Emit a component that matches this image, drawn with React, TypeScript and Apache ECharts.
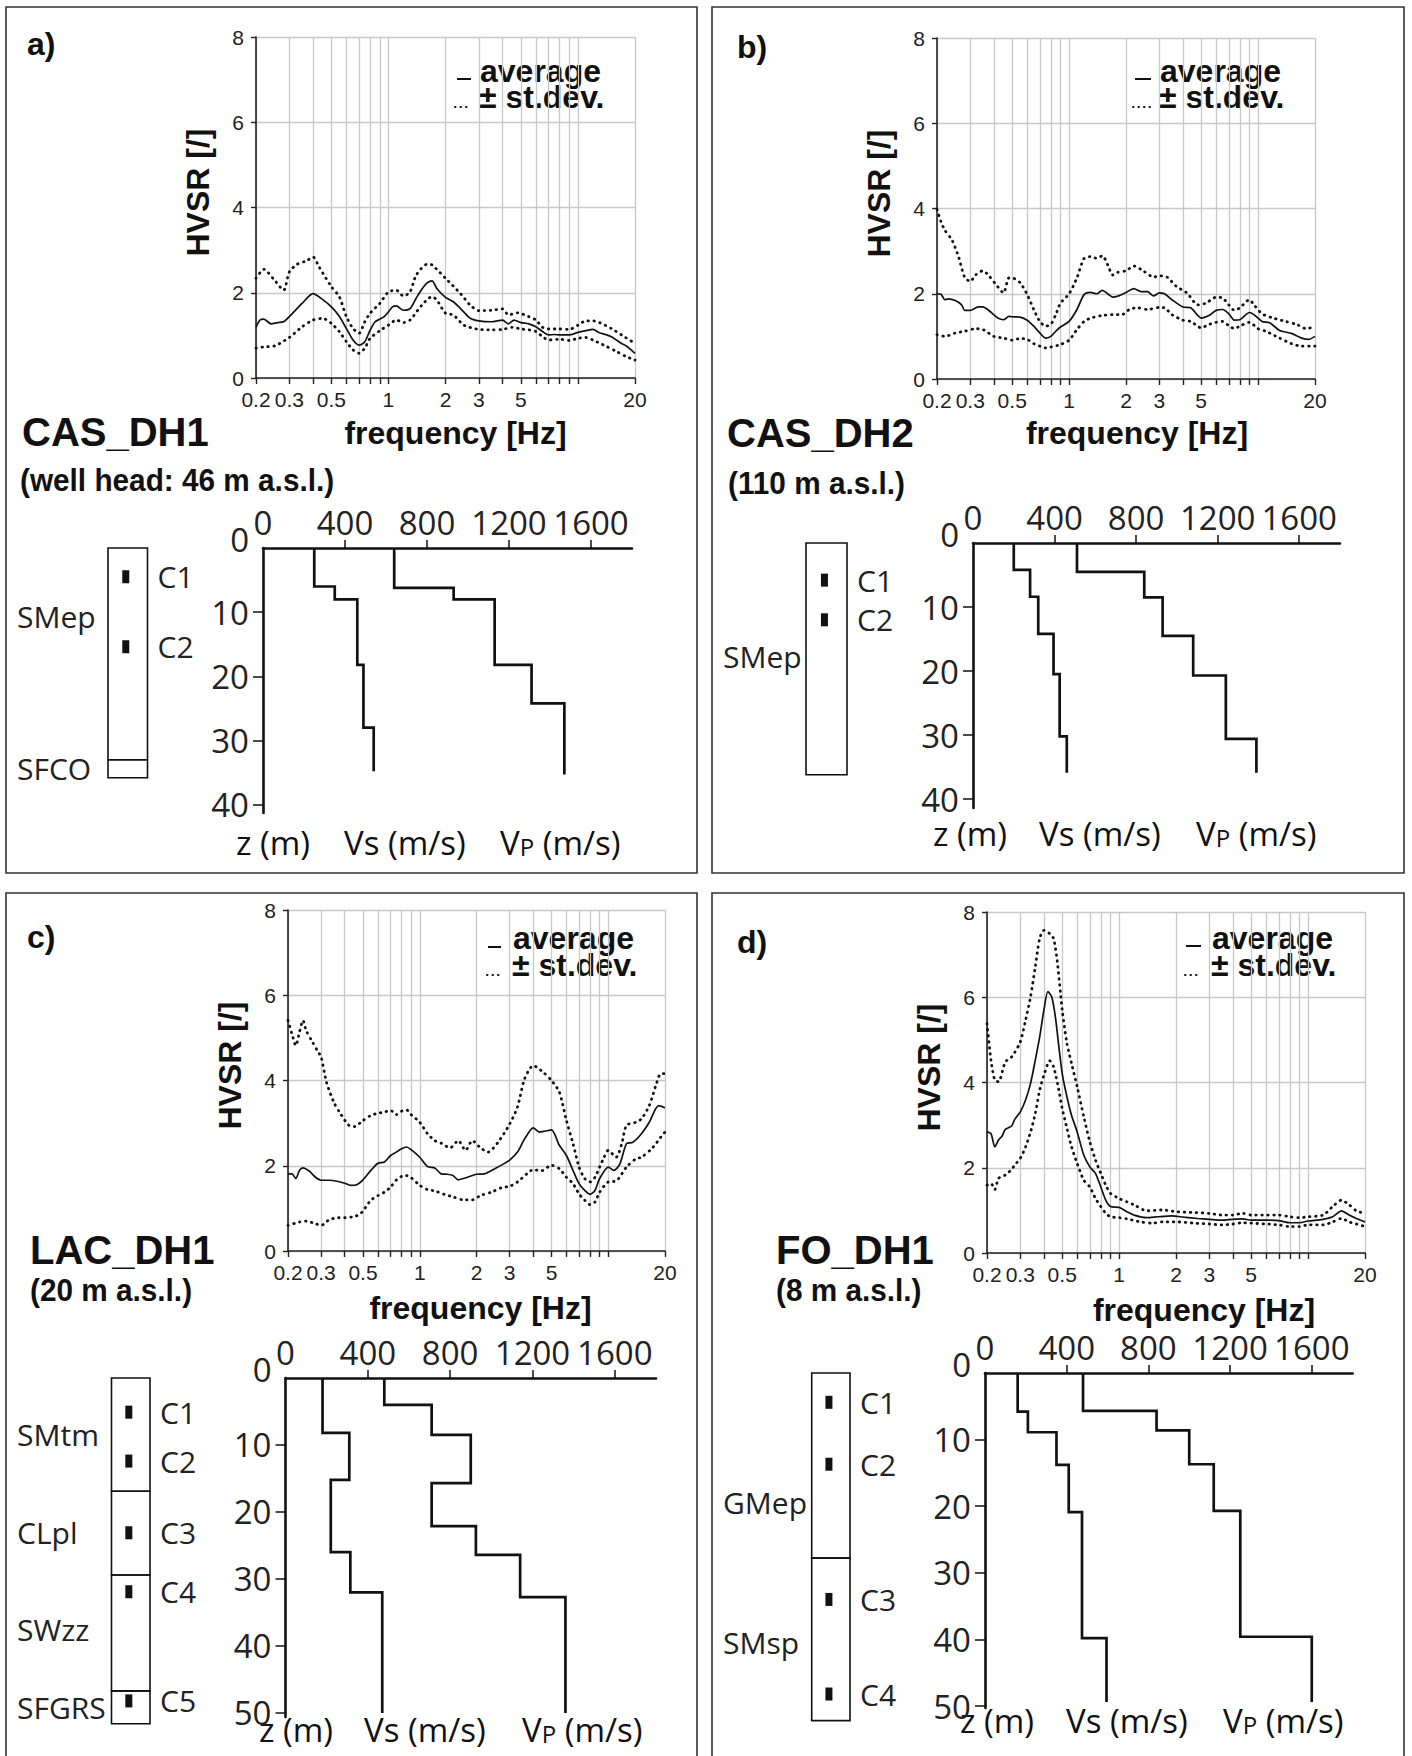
import React, { useEffect, useRef } from 'react';
import * as echarts from 'echarts';

type Pt = [number, number];

// ---------- axis values ----------
const gridFreqs = [0.2, 0.3, 0.4, 0.5, 0.6, 0.7, 0.8, 0.9, 1, 2, 3, 4, 5, 6, 7, 8, 9, 10, 20];
const freqLabels = [0.2, 0.3, 0.5, 1, 2, 3, 5, 20];
const velocityTicks = [0, 400, 800, 1200, 1600];
const depthTicks40 = [0, 10, 20, 30, 40];
const depthTicks50 = [0, 10, 20, 30, 40, 50];

// ---------- HVSR curves: [frequency Hz, HVSR] ----------
const avgA: Pt[] = [[0.2,1.19],[0.21,1.36],[0.22,1.38],[0.24,1.27],[0.26,1.30],[0.28,1.32],[0.3,1.44],[0.35,1.75],[0.4,1.98],[0.45,1.84],[0.5,1.67],[0.55,1.45],[0.6,1.16],[0.65,0.89],[0.7,0.77],[0.75,0.85],[0.8,1.12],[0.85,1.32],[0.9,1.38],[0.95,1.44],[1.0,1.55],[1.05,1.67],[1.1,1.69],[1.2,1.59],[1.3,1.63],[1.4,1.87],[1.5,2.08],[1.6,2.23],[1.7,2.28],[1.8,2.1],[2.0,1.89],[2.2,1.79],[2.4,1.63],[2.7,1.40],[3,1.34],[3.5,1.32],[4,1.36],[4.3,1.27],[4.6,1.36],[5,1.30],[5.5,1.27],[6,1.20],[6.5,1.09],[7,1.01],[7.5,1.02],[8,1.01],[9,1.01],[10,1.07],[11,1.11],[12,1.14],[13,1.06],[14,1.02],[15,0.97],[17,0.81],[18,0.75],[20,0.58]];
const upA: Pt[] = [[0.2,2.34],[0.22,2.55],[0.25,2.30],[0.28,2.06],[0.3,2.49],[0.33,2.67],[0.37,2.75],[0.4,2.84],[0.43,2.61],[0.5,2.14],[0.55,1.91],[0.6,1.44],[0.65,1.16],[0.7,1.05],[0.75,1.32],[0.8,1.52],[0.9,1.75],[1.0,2.02],[1.1,2.06],[1.2,1.92],[1.3,2.02],[1.4,2.41],[1.6,2.67],[1.7,2.65],[2.0,2.34],[2.4,1.98],[2.7,1.71],[3,1.58],[3.5,1.59],[4,1.62],[4.3,1.48],[4.8,1.53],[5.5,1.44],[6,1.36],[6.5,1.19],[7,1.15],[8,1.15],[9,1.14],[10,1.24],[11,1.34],[12,1.34],[13,1.30],[15,1.16],[17,1.01],[20,0.81]];
const loA: Pt[] = [[0.2,0.70],[0.22,0.73],[0.25,0.75],[0.3,0.95],[0.35,1.20],[0.4,1.36],[0.45,1.40],[0.5,1.28],[0.55,1.09],[0.6,0.85],[0.65,0.66],[0.7,0.58],[0.75,0.70],[0.8,0.93],[0.9,1.11],[1.0,1.24],[1.1,1.36],[1.2,1.30],[1.3,1.36],[1.5,1.71],[1.7,1.91],[1.8,1.83],[2.0,1.52],[2.2,1.48],[2.5,1.24],[3,1.14],[3.5,1.13],[4,1.14],[4.5,1.19],[5,1.15],[5.5,1.13],[6,1.09],[6.5,0.97],[7,0.89],[8,0.91],[9,0.88],[10,0.93],[11,0.95],[12,0.89],[14,0.75],[16,0.62],[18,0.50],[20,0.42]];

const avgB: Pt[] = [[0.2,2.0],[0.21,1.99],[0.22,1.86],[0.23,1.88],[0.25,1.84],[0.27,1.74],[0.28,1.61],[0.3,1.61],[0.33,1.69],[0.35,1.69],[0.38,1.59],[0.42,1.43],[0.45,1.39],[0.48,1.47],[0.5,1.46],[0.55,1.45],[0.6,1.38],[0.65,1.24],[0.7,1.08],[0.75,0.96],[0.8,1.0],[0.85,1.12],[0.9,1.22],[1.0,1.35],[1.1,1.63],[1.2,1.98],[1.3,2.03],[1.4,2.0],[1.5,2.08],[1.6,2.0],[1.7,1.92],[1.8,1.94],[2.0,2.03],[2.2,2.12],[2.4,2.05],[2.6,2.05],[2.8,1.95],[3.0,2.02],[3.2,2.0],[3.5,1.86],[4,1.69],[4.4,1.67],[5,1.43],[5.5,1.49],[6,1.61],[6.5,1.63],[7,1.53],[7.5,1.38],[8,1.39],[9,1.56],[9.5,1.51],[10.5,1.35],[11.5,1.32],[13,1.14],[15,1.07],[17,0.96],[18.5,0.93],[20,1.0]];
const upB: Pt[] = [[0.2,3.98],[0.21,3.69],[0.22,3.49],[0.24,3.26],[0.26,2.87],[0.28,2.39],[0.3,2.29],[0.32,2.44],[0.35,2.54],[0.38,2.40],[0.42,2.16],[0.45,2.02],[0.48,2.37],[0.5,2.37],[0.55,2.26],[0.6,1.98],[0.65,1.63],[0.7,1.35],[0.75,1.24],[0.8,1.28],[0.85,1.51],[0.9,1.78],[1.0,2.0],[1.1,2.37],[1.2,2.83],[1.3,2.87],[1.4,2.83],[1.5,2.89],[1.6,2.68],[1.7,2.44],[1.8,2.50],[2.0,2.54],[2.2,2.65],[2.5,2.52],[2.8,2.39],[3.0,2.42],[3.3,2.39],[3.7,2.17],[4.2,2.02],[4.8,1.74],[5.3,1.78],[6,1.92],[6.5,1.90],[7,1.74],[7.5,1.61],[8,1.67],[9,1.86],[9.5,1.74],[10.5,1.53],[12,1.43],[14,1.35],[16,1.28],[18,1.18],[20,1.24]];
const loB: Pt[] = [[0.2,1.04],[0.22,1.0],[0.25,1.08],[0.28,1.12],[0.32,1.18],[0.35,1.16],[0.4,1.0],[0.45,0.96],[0.5,0.91],[0.55,0.95],[0.6,0.93],[0.65,0.83],[0.7,0.77],[0.75,0.73],[0.8,0.75],[0.9,0.81],[1.0,0.91],[1.1,1.16],[1.2,1.35],[1.3,1.43],[1.5,1.49],[1.7,1.51],[1.9,1.51],[2.1,1.64],[2.3,1.67],[2.6,1.63],[3.0,1.68],[3.2,1.67],[3.5,1.51],[4,1.38],[4.4,1.35],[5,1.20],[5.5,1.28],[6,1.33],[6.5,1.35],[7,1.25],[7.5,1.18],[8,1.24],[9,1.33],[10,1.18],[11,1.12],[13,0.96],[15,0.83],[17,0.77],[20,0.77]];

const avgC: Pt[] = [[0.2,1.81],[0.21,1.81],[0.22,1.70],[0.23,1.89],[0.24,1.95],[0.26,1.87],[0.28,1.73],[0.3,1.66],[0.33,1.66],[0.37,1.63],[0.4,1.59],[0.43,1.54],[0.46,1.55],[0.5,1.67],[0.55,1.89],[0.6,2.06],[0.65,2.09],[0.7,2.24],[0.75,2.32],[0.8,2.40],[0.85,2.44],[0.9,2.38],[1.0,2.20],[1.1,1.98],[1.2,1.95],[1.3,1.81],[1.4,1.80],[1.5,1.77],[1.6,1.67],[1.7,1.70],[1.9,1.77],[2.0,1.80],[2.2,1.81],[2.5,1.93],[2.8,2.05],[3.0,2.13],[3.3,2.32],[3.6,2.63],[4.0,2.89],[4.3,2.79],[4.6,2.81],[5.0,2.84],[5.5,2.48],[6,2.24],[6.5,1.89],[7,1.58],[7.5,1.42],[8,1.33],[8.5,1.42],[9,1.70],[10,1.97],[10.7,1.89],[11.5,2.03],[12.5,2.52],[13.5,2.55],[15,2.75],[16.5,3.02],[18.5,3.41],[20,3.36]];
const upC: Pt[] = [[0.2,5.41],[0.21,5.09],[0.22,4.82],[0.23,5.13],[0.24,5.41],[0.25,5.17],[0.27,4.90],[0.29,4.66],[0.3,4.55],[0.32,3.96],[0.35,3.49],[0.38,3.22],[0.42,2.95],[0.45,2.92],[0.5,3.06],[0.55,3.18],[0.6,3.23],[0.65,3.26],[0.7,3.30],[0.75,3.20],[0.8,3.28],[0.85,3.31],[0.9,3.20],[1.0,3.02],[1.1,2.75],[1.2,2.59],[1.3,2.53],[1.45,2.42],[1.6,2.59],[1.75,2.36],[1.9,2.59],[2.1,2.42],[2.3,2.32],[2.6,2.55],[3.0,2.98],[3.3,3.38],[3.6,4.04],[4.0,4.35],[4.5,4.20],[5.0,4.00],[5.5,3.73],[6,3.06],[6.5,2.52],[7,1.97],[7.5,1.70],[8,1.62],[8.5,1.73],[9,1.97],[9.5,2.20],[10,2.36],[11,2.20],[11.8,2.52],[12.5,2.95],[14,3.02],[15,3.10],[16.5,3.41],[18,3.92],[19,4.16],[20,4.16]];
const loC: Pt[] = [[0.2,0.60],[0.23,0.68],[0.25,0.70],[0.28,0.64],[0.3,0.60],[0.33,0.73],[0.37,0.78],[0.4,0.78],[0.45,0.81],[0.48,0.86],[0.5,0.94],[0.55,1.19],[0.6,1.30],[0.65,1.38],[0.7,1.50],[0.75,1.66],[0.8,1.75],[0.85,1.77],[0.9,1.72],[1.0,1.54],[1.1,1.44],[1.2,1.41],[1.35,1.33],[1.5,1.27],[1.7,1.20],[1.9,1.20],[2.1,1.30],[2.4,1.38],[2.7,1.48],[3.0,1.52],[3.3,1.62],[3.7,1.81],[4.0,1.91],[4.4,1.88],[5.0,2.01],[5.5,1.93],[6,1.73],[6.5,1.58],[7,1.34],[7.5,1.19],[8,1.09],[8.5,1.15],[9,1.38],[10,1.62],[11,1.64],[12.5,1.97],[14,2.16],[15,2.20],[17,2.40],[19,2.67],[20,2.79]];

const avgD: Pt[] = [[0.2,2.84],[0.21,2.80],[0.22,2.49],[0.23,2.65],[0.24,2.74],[0.25,2.90],[0.27,2.98],[0.28,3.13],[0.3,3.31],[0.32,3.59],[0.34,3.98],[0.36,4.52],[0.38,5.07],[0.4,5.70],[0.42,6.13],[0.44,6.01],[0.46,5.54],[0.48,4.84],[0.5,4.21],[0.53,3.66],[0.56,3.23],[0.6,2.84],[0.65,2.30],[0.7,2.02],[0.75,1.87],[0.8,1.55],[0.85,1.24],[0.9,1.09],[1.0,1.07],[1.1,0.97],[1.2,0.89],[1.4,0.83],[1.6,0.85],[1.9,0.87],[2.2,0.84],[2.6,0.81],[3.0,0.79],[3.5,0.77],[4.0,0.79],[4.5,0.80],[5.0,0.77],[6,0.77],[7,0.76],[8,0.71],[9,0.71],[10,0.75],[12,0.79],[13.5,0.85],[15,0.99],[16.5,0.89],[18,0.81],[20,0.73]];
const upD: Pt[] = [[0.2,5.38],[0.21,4.52],[0.22,4.05],[0.23,4.02],[0.25,4.48],[0.27,4.60],[0.28,4.70],[0.3,4.95],[0.32,5.46],[0.34,6.01],[0.36,6.71],[0.38,7.38],[0.4,7.57],[0.43,7.49],[0.45,7.38],[0.47,6.87],[0.5,5.70],[0.53,4.91],[0.56,4.45],[0.6,3.90],[0.65,3.20],[0.7,2.61],[0.75,2.18],[0.8,1.87],[0.85,1.59],[0.9,1.40],[1.0,1.28],[1.1,1.20],[1.2,1.13],[1.4,0.99],[1.7,1.01],[2.0,0.97],[2.5,0.95],[3,0.93],[3.5,0.89],[4,0.89],[4.5,0.93],[5,0.89],[6,0.89],[7,0.89],[8,0.85],[9,0.83],[10,0.85],[12,0.89],[13.5,1.09],[15,1.24],[16.5,1.13],[18,0.99],[20,0.93]];
const loD: Pt[] = [[0.2,1.59],[0.21,1.63],[0.22,1.49],[0.23,1.75],[0.25,1.83],[0.27,1.96],[0.28,2.06],[0.3,2.22],[0.32,2.49],[0.34,2.84],[0.36,3.27],[0.38,3.82],[0.4,4.17],[0.43,4.51],[0.45,4.37],[0.48,3.82],[0.5,3.39],[0.53,2.92],[0.56,2.49],[0.6,2.10],[0.65,1.71],[0.7,1.55],[0.75,1.28],[0.8,1.09],[0.85,0.93],[0.9,0.85],[1.0,0.83],[1.1,0.80],[1.3,0.73],[1.5,0.70],[1.7,0.73],[2.0,0.73],[2.5,0.70],[3.0,0.68],[3.5,0.66],[4.0,0.68],[4.5,0.71],[5.0,0.70],[6,0.68],[7,0.66],[8,0.62],[9,0.62],[10,0.66],[12,0.66],[13.5,0.73],[15,0.81],[16.5,0.73],[18,0.68],[20,0.62]];

// ---------- velocity profiles: layer velocity (m/s) and layer bottom depth (m) ----------
const vsA = [250, 350, 460, 490, 540];
const vsDepthA = [6, 8, 18.2, 28, 34.8];
const vpA = [640, 930, 1130, 1310, 1470];
const vpDepthA = [6.2, 8, 18.2, 24.2, 35.3];

const vsB = [200, 280, 320, 395, 425, 460];
const vsDepthB = [4.2, 8.4, 14.2, 20.5, 30.2, 35.9];
const vpB = [510, 840, 930, 1080, 1240, 1390];
const vpDepthB = [4.5, 8.5, 14.5, 20.7, 30.6, 35.9];

const vsC = [180, 310, 220, 315, 470];
const vsDepthC = [8.2, 15.2, 26, 32, 50];
const vpC = [480, 710, 900, 710, 925, 1140, 1360];
const vpDepthC = [4, 8.5, 15.7, 22.1, 26.4, 32.7, 50];

const vsD = [160, 210, 350, 410, 475, 595];
const vsDepthD = [5.8, 8.9, 13.8, 20.9, 39.8, 49.4];
const vpD = [480, 840, 1000, 1120, 1250, 1600];
const vpDepthD = [5.7, 8.6, 13.7, 20.7, 39.6, 49.4];

// ---------- lithology columns ----------
const layerNamesA = ['SMep', 'SFCO'];
const layerTopA = [0, 33];
const layerBottomA = [33, 35.8];
const layerLabelZA = [10.7, 34.3];
const sampleNamesA = ['C1', 'C2'];
const sampleZA = [4.5, 15.4];

const layerNamesB = ['SMep'];
const layerTopB = [0];
const layerBottomB = [36.2];
const layerLabelZB = [17.8];
const sampleNamesB = ['C1', 'C2'];
const sampleZB = [5.8, 12];

const layerNamesC = ['SMtm', 'CLpl', 'SWzz', 'SFGRS'];
const layerTopC = [0, 16.9, 29.4, 46.7];
const layerBottomC = [16.9, 29.4, 46.7, 51.6];
const layerLabelZC = [8.5, 23.1, 37.6, 49.2];
const sampleNamesC = ['C1', 'C2', 'C3', 'C4', 'C5'];
const sampleZC = [5.1, 12.4, 23.1, 31.9, 48.2];

const layerNamesD = ['GMep', 'SMsp'];
const layerTopD = [0, 27.8];
const layerBottomD = [27.8, 52.2];
const layerLabelZD = [19.5, 40.5];
const sampleNamesD = ['C1', 'C2', 'C3', 'C4'];
const sampleZD = [4.4, 13.7, 34, 48.2];

const FONT_H = '"Liberation Sans", Arial, Helvetica, sans-serif';
const FONT_P = '"Open Sans", "Noto Sans", sans-serif';
const INK = '#111';

const panels = [
  {
    px: 6, py: 7, pw: 691, ph: 866, letter: 'a)', lx: 27, ly: 44,
    hv: { left: 256, top: 37, width: 379, height: 341 }, xNameGap: 39, xNameShift: 10,
    avg: avgA, up: upA, lo: loA,
    lg: { tx: 480, ay: 71, sy: 97, dx1: 457, dx2: 471, dy: 79, ox1: 455, ox2: 471, oy: 107 },
    title: 'CAS_DH1', tx: 22, ty: 432, sub: '(well head: 46 m a.s.l.)', sx: 20, sy: 480,
    prof: { left: 263, top: 548, width: 369, height: 265, zmax: 41.3 }, dTicks: depthTicks40,
    vs: vsA, vsZ: vsDepthA, vp: vpA, vpZ: vpDepthA,
    col: { left: 108, width: 39.5 },
    lNames: layerNamesA, lTop: layerTopA, lBot: layerBottomA, lLab: layerLabelZA,
    sNames: sampleNamesA, sZ: sampleZA,
    bottom: { y: 842, z: 236, vs: 344, vp: 500 },
  },
  {
    px: 712, py: 7, pw: 692, ph: 866, letter: 'b)', lx: 737, ly: 47,
    hv: { left: 937, top: 38, width: 378, height: 341 }, xNameGap: 38, xNameShift: 11,
    avg: avgB, up: upB, lo: loB,
    lg: { tx: 1160, ay: 71, sy: 97, dx1: 1135, dx2: 1151, dy: 79, ox1: 1133, ox2: 1151, oy: 107 },
    title: 'CAS_DH2', tx: 727, ty: 433, sub: '(110 m a.s.l.)', sx: 728, sy: 483,
    prof: { left: 973, top: 543, width: 367, height: 265, zmax: 41.4 }, dTicks: depthTicks40,
    vs: vsB, vsZ: vsDepthB, vp: vpB, vpZ: vpDepthB,
    col: { left: 806, width: 41 },
    lNames: layerNamesB, lTop: layerTopB, lBot: layerBottomB, lLab: layerLabelZB,
    sNames: sampleNamesB, sZ: sampleZB,
    bottom: { y: 833, z: 933, vs: 1039, vp: 1196 },
  },
  {
    px: 6, py: 893, pw: 691, ph: 870, letter: 'c)', lx: 27, ly: 937,
    hv: { left: 288, top: 910, width: 377, height: 341 }, xNameGap: 41, xNameShift: 4,
    avg: avgC, up: upC, lo: loC,
    lg: { tx: 513, ay: 938, sy: 965, dx1: 488, dx2: 501, dy: 947, ox1: 487, ox2: 501, oy: 975 },
    title: 'LAC_DH1', tx: 30, ty: 1250, sub: '(20 m a.s.l.)', sx: 30, sy: 1290,
    prof: { left: 285.5, top: 1378, width: 370.5, height: 339, zmax: 50.6 }, dTicks: depthTicks50,
    vs: vsC, vsZ: vsDepthC, vp: vpC, vpZ: vpDepthC,
    col: { left: 111.5, width: 38.5 },
    lNames: layerNamesC, lTop: layerTopC, lBot: layerBottomC, lLab: layerLabelZC,
    sNames: sampleNamesC, sZ: sampleZC,
    bottom: { y: 1729, z: 259, vs: 364, vp: 522 },
  },
  {
    px: 712, py: 893, pw: 692, ph: 870, letter: 'd)', lx: 737, ly: 942,
    hv: { left: 987, top: 912, width: 378, height: 341 }, xNameGap: 41, xNameShift: 28,
    avg: avgD, up: upD, lo: loD,
    lg: { tx: 1212, ay: 938, sy: 965, dx1: 1186, dx2: 1201, dy: 946, ox1: 1185, ox2: 1201, oy: 975 },
    title: 'FO_DH1', tx: 776, ty: 1250, sub: '(8 m a.s.l.)', sx: 776, sy: 1290,
    prof: { left: 985, top: 1373, width: 367.6, height: 335, zmax: 50.3 }, dTicks: depthTicks50,
    vs: vsD, vsZ: vsDepthD, vp: vpD, vpZ: vpDepthD,
    col: { left: 811.7, width: 38.3 },
    lNames: layerNamesD, lTop: layerTopD, lBot: layerBottomD, lLab: layerLabelZD,
    sNames: sampleNamesD, sZ: sampleZD,
    bottom: { y: 1720, z: 960, vs: 1066, vp: 1223 },
  },
];

function stepPoints(vals: number[], depths: number[]): Pt[] {
  const pts: Pt[] = [[vals[0], 0]];
  for (let i = 0; i < vals.length; i++) {
    pts.push([vals[i], depths[i]]);
    if (i + 1 < vals.length) pts.push([vals[i + 1], depths[i]]);
  }
  return pts;
}

function fmtNum(v: number) {
  return String(+Number(v).toPrecision(4));
}

function buildOption() {
  const grid: any[] = [];
  const xAxis: any[] = [];
  const yAxis: any[] = [];
  const series: any[] = [];
  const graphic: any[] = [];

  const txt = (x: number, y: number, text: string, size: number, family: string, bold = false, extra: any = {}, lineHeight?: number) => ({
    type: 'text', x, y, silent: true, ...extra,
    style: {
      text, fontSize: size, fontFamily: family, fontWeight: bold ? 'bold' : 'normal', fill: INK,
      align: 'left', verticalAlign: 'middle', textAlign: 'left', textVerticalAlign: 'middle',
      ...(lineHeight ? { lineHeight } : {}),
    },
  });

  panels.forEach((p) => {
    // ----- frame & texts -----
    graphic.push({ type: 'rect', silent: true, shape: { x: p.px, y: p.py, width: p.pw, height: p.ph }, style: { fill: 'none', stroke: '#333', lineWidth: 1.6 } });
    graphic.push(txt(p.lx, p.ly, p.letter, 32, FONT_H, true));
    graphic.push(txt(p.tx, p.ty, p.title, 40, FONT_H, true));
    graphic.push(txt(p.sx, p.sy, p.sub, 32, FONT_H, true, { scaleX: 0.93 }));
    // legend
    graphic.push({ type: 'line', silent: true, shape: { x1: p.lg.dx1, y1: p.lg.dy, x2: p.lg.dx2, y2: p.lg.dy }, style: { stroke: INK, lineWidth: 2 } });
    graphic.push({ type: 'line', silent: true, shape: { x1: p.lg.ox1, y1: p.lg.oy, x2: p.lg.ox2, y2: p.lg.oy }, style: { stroke: INK, lineWidth: 2, lineDash: [0.5, 5], lineCap: 'round' } });
    graphic.push(txt(p.lg.tx, p.lg.ay, 'average', 32, FONT_H, true, {}, 24));
    graphic.push(txt(p.lg.tx - 1, p.lg.sy, '± st.dev.', 32, FONT_H, true, {}, 24));
    // bottom labels of profile
    graphic.push(txt(p.bottom.z, p.bottom.y, 'z (m)', 33, FONT_P, false, {}, 30));
    graphic.push(txt(p.bottom.vs, p.bottom.y, 'Vs (m/s)', 33, FONT_P, false, {}, 30));
    graphic.push({
      type: 'text', x: p.bottom.vp, y: p.bottom.y, silent: true,
      style: {
        text: '{n|V}{s|P}{n| (m/s)}', fill: INK, align: 'left', verticalAlign: 'middle', textAlign: 'left', textVerticalAlign: 'middle',
        rich: {
          n: { fontSize: 33, fontFamily: FONT_P, fill: INK, verticalAlign: 'bottom' },
          s: { fontSize: 24, fontFamily: FONT_P, fill: INK, verticalAlign: 'bottom' },
        },
      },
    });

    // ----- HVSR plot -----
    const k = grid.length;
    grid.push({ left: p.hv.left, top: p.hv.top, width: p.hv.width, height: p.hv.height });
    xAxis.push({
      gridIndex: k, type: 'log', logBase: 10, min: 0.2, max: 20,
      name: 'frequency [Hz]', nameLocation: 'middle', nameGap: p.xNameGap,
      nameTextStyle: { fontSize: 32, fontWeight: 'bold', fontFamily: FONT_H, color: INK, padding: [0, 0, 0, p.xNameShift * 2] },
      axisLine: { show: true, onZero: false, lineStyle: { color: '#222', width: 1.6 } },
      axisTick: { show: true, customValues: gridFreqs, length: 6, lineStyle: { color: '#222', width: 1.4 } },
      axisLabel: { customValues: freqLabels, fontSize: 21, fontFamily: FONT_H, color: '#222', margin: 11, formatter: (v: number) => fmtNum(v), hideOverlap: false },
      splitLine: { show: true, lineStyle: { color: '#c8c8c8', width: 1.3 } },
      minorTick: { show: false }, minorSplitLine: { show: false },
    });
    yAxis.push({
      gridIndex: k, type: 'value', min: 0, max: 8, interval: 2,
      name: 'HVSR [/]', nameLocation: 'middle', nameRotate: 90, nameGap: 42,
      nameTextStyle: { fontSize: 32, fontWeight: 'bold', fontFamily: FONT_H, color: INK, padding: [0, 0, 0, 30] },
      axisLine: { show: true, onZero: false, lineStyle: { color: '#222', width: 1.6 } },
      axisTick: { show: true, length: 5, lineStyle: { color: '#222', width: 1.4 } },
      axisLabel: { fontSize: 21, fontFamily: FONT_H, color: '#222', margin: 12 },
      splitLine: { show: true, lineStyle: { color: '#c8c8c8', width: 1.3 } },
    });
    const dotted = { color: INK, width: 2.8, type: [0.5, 5.5], cap: 'round' };
    series.push({ type: 'line', name: 'average', xAxisIndex: k, yAxisIndex: k, data: p.avg, symbol: 'none', showSymbol: false, smooth: 0.25, silent: true, lineStyle: { color: INK, width: 1.7 }, z: 4 });
    series.push({ type: 'line', name: '+st.dev.', xAxisIndex: k, yAxisIndex: k, data: p.up, symbol: 'none', showSymbol: false, smooth: 0.25, silent: true, lineStyle: dotted, z: 3 });
    series.push({ type: 'line', name: '-st.dev.', xAxisIndex: k, yAxisIndex: k, data: p.lo, symbol: 'none', showSymbol: false, smooth: 0.25, silent: true, lineStyle: dotted, z: 3 });

    // ----- velocity profile -----
    const m = grid.length;
    grid.push({ left: p.prof.left, top: p.prof.top, width: p.prof.width, height: p.prof.height });
    xAxis.push({
      gridIndex: m, type: 'value', position: 'top', min: 0, max: 1800,
      axisLine: { show: true, onZero: false, lineStyle: { color: INK, width: 2.6 } },
      axisTick: { show: true, customValues: velocityTicks.slice(1), length: 8, lineStyle: { color: INK, width: 1.5 } },
      axisLabel: { customValues: velocityTicks, fontSize: 33, fontFamily: FONT_P, color: '#222', margin: 9, formatter: (v: number) => String(v) },
      splitLine: { show: false },
    });
    yAxis.push({
      gridIndex: m, type: 'value', inverse: true, min: 0, max: p.prof.zmax,
      axisLine: { show: true, onZero: false, lineStyle: { color: INK, width: 2.6 } },
      axisTick: { show: true, customValues: p.dTicks.slice(1), length: 10, lineStyle: { color: INK, width: 1.5 } },
      axisLabel: {
        customValues: p.dTicks, fontSize: 33, fontFamily: FONT_P, color: '#222', margin: 14,
        formatter: (v: number) => (v === 0 ? '{z|0}' : String(v)),
        rich: { z: { fontSize: 33, fontFamily: FONT_P, color: '#222', padding: [0, 0, 18, 0] } },
      },
      splitLine: { show: false },
    });
    series.push({ type: 'line', name: 'Vs', xAxisIndex: m, yAxisIndex: m, data: stepPoints(p.vs, p.vsZ), symbol: 'none', showSymbol: false, silent: true, lineStyle: { color: INK, width: 2.7, join: 'miter' } });
    series.push({ type: 'line', name: 'Vp', xAxisIndex: m, yAxisIndex: m, data: stepPoints(p.vp, p.vpZ), symbol: 'none', showSymbol: false, silent: true, lineStyle: { color: INK, width: 2.7, join: 'miter' } });

    // ----- lithology column -----
    const c = grid.length;
    grid.push({ left: p.col.left, top: p.prof.top, width: p.col.width, height: p.prof.height });
    xAxis.push({ gridIndex: c, type: 'value', min: 0, max: 1, show: false });
    yAxis.push({ gridIndex: c, type: 'value', inverse: true, min: 0, max: p.prof.zmax, show: false });
    const labelX = p.px + 11;
    series.push({
      type: 'custom', name: 'layers', xAxisIndex: c, yAxisIndex: c, silent: true,
      data: p.lNames.map((n, i) => ({ name: n, value: [0, p.lTop[i], p.lBot[i], p.lLab[i]] })),
      renderItem: (params: any, api: any) => {
        const a = api.coord([0, api.value(1)]);
        const b = api.coord([1, api.value(2)]);
        const l = api.coord([0, api.value(3)]);
        return {
          type: 'group',
          children: [
            { type: 'rect', shape: { x: a[0], y: a[1], width: b[0] - a[0], height: b[1] - a[1] }, style: { fill: 'none', stroke: INK, lineWidth: 1.6 } },
            { type: 'text', x: labelX, y: l[1], style: { text: p.lNames[params.dataIndex], fontSize: 30, fontFamily: FONT_P, fill: '#222', align: 'left', verticalAlign: 'middle' } },
          ],
        };
      },
    });
    series.push({
      type: 'custom', name: 'samples', xAxisIndex: c, yAxisIndex: c, silent: true,
      data: p.sNames.map((n, i) => ({ name: n, value: [0, p.sZ[i]] })),
      renderItem: (params: any, api: any) => {
        const pt = api.coord([0.45, api.value(1)]);
        const r = api.coord([1, api.value(1)]);
        return {
          type: 'group',
          children: [
            { type: 'rect', shape: { x: pt[0] - 3.5, y: pt[1] - 6.5, width: 7, height: 13 }, style: { fill: INK } },
            { type: 'text', x: r[0] + 10, y: pt[1], style: { text: p.sNames[params.dataIndex], fontSize: 30, fontFamily: FONT_P, fill: '#222', align: 'left', verticalAlign: 'middle' } },
          ],
        };
      },
    });
  });

  return {
    animation: false,
    backgroundColor: '#ffffff',
    grid, xAxis, yAxis, series, graphic,
    tooltip: { show: false },
  };
}

export default function App() {
  const ref = useRef<HTMLDivElement>(null);
  useEffect(() => {
    if (!ref.current) return;
    const chart = echarts.init(ref.current, undefined, { renderer: 'svg' });
    chart.setOption(buildOption() as any);
    return () => chart.dispose();
  }, []);
  return <div ref={ref} style={{ position: 'absolute', left: 0, top: 0, width: 1412, height: 1756, background: '#fff' }} />;
}
